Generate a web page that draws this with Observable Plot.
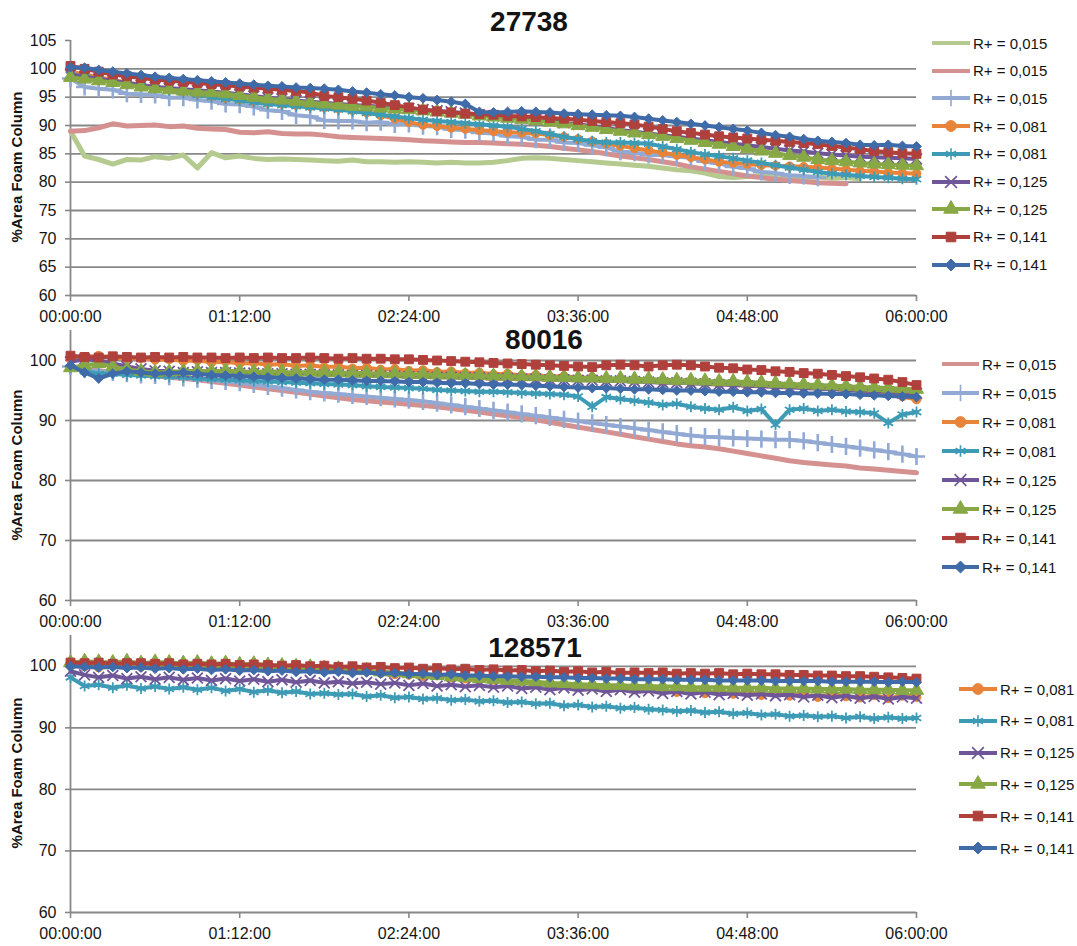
<!DOCTYPE html>
<html><head><meta charset="utf-8">
<script src="https://cdn.jsdelivr.net/npm/d3@7"></script>
<script src="https://cdn.jsdelivr.net/npm/@observablehq/plot@0.6"></script>
<style>
body{margin:0;background:#fff;}
#root{position:relative;width:1077px;height:946px;overflow:hidden;font-family:"Liberation Sans",Arial,sans-serif;color:#141414;background:#fff;}
.panel{position:absolute;left:0;}
.title{position:absolute;font-weight:bold;font-size:28px;line-height:28px;transform:translateX(-50%);white-space:nowrap;}
.ylab{position:absolute;font-weight:bold;font-size:15px;line-height:15px;transform:translate(-50%,-50%) rotate(-90deg);white-space:nowrap;}
.lrow{position:absolute;display:flex;align-items:center;font-size:15px;white-space:nowrap;height:20px;}
.lrow svg{display:block;}
</style></head><body><div id="root"></div><script>
// ---------- time grid (minutes) and axis ticks ----------
const minutes = [0,6,12,18,24,30,36,42,48,54,60,66,72,78,84,90,96,102,108,114,120,126,132,138,144,150,156,162,168,174,180,186,192,198,204,210,216,222,228,234,240,246,252,258,264,270,276,282,288,294,300,306,312,318,324,330,336,342,348,354,360];
const xTickMinutes = [0,72,144,216,288,360];
const xTickLabels = ["00:00:00","01:12:00","02:24:00","03:36:00","04:48:00","06:00:00"];
const yTicks1 = [60,65,70,75,80,85,90,95,100,105];
const yGrid1 = [60,65,70,75,80,85,90,95,100];
const yTicks23 = [60,70,80,90,100];

// ---------- panel titles / legend labels ----------
const titles = ["27738","80016","128571"];
const yLabel = "%Area Foam Column";
const labels1 = ["R+ = 0,015","R+ = 0,015","R+ = 0,015","R+ = 0,081","R+ = 0,081","R+ = 0,125","R+ = 0,125","R+ = 0,141","R+ = 0,141"];
const labels2 = ["R+ = 0,015","R+ = 0,015","R+ = 0,081","R+ = 0,081","R+ = 0,125","R+ = 0,125","R+ = 0,141","R+ = 0,141"];
const labels3 = ["R+ = 0,081","R+ = 0,081","R+ = 0,125","R+ = 0,125","R+ = 0,141","R+ = 0,141"];

// ---------- panel 1 : 27738 ----------
const p1LightGreen = [89.0,84.6,84.0,83.2,84.0,83.9,84.5,84.2,84.8,82.5,85.2,84.3,84.6,84.2,84.0,84.1,84.0,83.9,83.8,83.7,83.9,83.6,83.6,83.5,83.6,83.5,83.4,83.5,83.4,83.4,83.5,83.8,84.2,84.3,84.2,84.0,83.8,83.6,83.4,83.2,83.0,82.8,82.5,82.2,82.0,81.6,81.0,80.8,81.0,81.2,80.9,81.0,80.8,80.9,80.7,80.8,80.6];
const p1Pink = [89.0,89.1,89.6,90.3,89.9,90.0,90.1,89.8,89.9,89.5,89.4,89.3,88.8,88.7,88.9,88.6,88.5,88.5,88.3,88.0,87.9,87.8,87.7,87.6,87.5,87.3,87.2,87.1,87.0,87.0,86.9,86.8,86.7,86.5,86.3,86.0,85.7,85.4,85.0,84.6,84.3,84.0,83.6,83.2,82.7,82.3,81.9,81.5,81.1,80.8,80.5,80.3,80.1,79.9,79.8,79.7];
const p1LightBlue = [98.3,96.8,96.5,96.3,95.6,95.5,95.4,94.9,94.9,94.5,94.3,93.8,93.7,93.3,92.7,92.5,91.8,91.6,90.9,90.8,90.8,90.5,90.6,90.2,90.3,89.9,89.8,89.3,89.2,88.7,88.6,88.1,88.0,87.5,87.5,87.0,86.9,86.5,86.1,85.4,85.2,84.8,84.8,84.5,84.3,83.6,83.3,82.7,82.4,81.8,81.6,81.2,81.1,80.8];
const p1Orange = [99.5,99.0,98.5,98.0,97.6,97.2,96.8,96.4,96.0,95.6,95.2,94.8,94.6,94.3,94.0,93.8,93.6,93.4,93.2,93.0,92.7,92.3,91.8,91.2,90.6,90.1,89.9,89.6,89.4,89.2,89.0,88.8,88.7,88.6,88.3,88.0,87.6,87.2,86.8,86.4,86.0,85.6,85.2,84.8,84.4,84.0,83.6,83.4,83.2,83.0,82.9,82.8,82.7,82.6,82.4,82.2,82.0,81.9,81.7,81.6,81.5];
const p1Teal = [99.0,98.6,98.2,97.8,97.4,97.0,96.6,96.2,95.8,95.4,95.0,94.7,94.4,94.1,93.8,93.6,93.4,93.2,93.0,92.8,92.5,92.2,91.9,91.6,91.3,91.0,90.8,90.6,90.4,90.2,90.0,89.8,89.4,89.0,88.5,88.0,87.6,87.2,87.0,87.0,86.9,86.8,86.3,85.8,85.3,84.9,84.6,84.2,83.8,83.4,83.0,82.6,82.2,81.8,81.5,81.3,81.1,80.9,80.8,80.6,80.5];
const p1Purple = [99.0,98.6,98.2,97.9,97.5,97.1,96.8,96.6,96.4,96.2,96.0,95.8,95.5,95.2,94.9,94.7,94.4,94.2,94.0,93.8,93.6,93.5,93.3,93.1,93.0,92.8,92.6,92.4,92.2,91.9,91.7,91.5,91.3,91.1,90.8,90.5,90.2,89.9,89.5,89.2,88.9,88.6,88.3,88.0,87.7,87.4,87.1,86.8,86.5,86.2,85.9,85.6,85.4,85.1,84.9,84.7,84.5,84.4,84.3,84.2,84.1];
const p1Green = [98.5,98.2,97.9,97.6,97.2,96.8,96.5,96.3,96.1,95.9,95.8,95.6,95.3,95.0,94.7,94.5,94.2,94.0,93.8,93.6,93.4,93.3,93.1,92.9,92.8,92.6,92.4,92.2,92.0,91.7,91.5,91.3,91.1,90.9,90.6,90.3,90.0,89.7,89.3,89.0,88.7,88.4,88.1,87.7,87.4,87.0,86.7,86.3,85.9,85.5,85.1,84.7,84.4,84.0,83.8,83.6,83.4,83.2,83.1,83.0,82.9];
const p1Red = [100.5,100.0,99.5,99.0,98.7,98.4,98.1,97.9,97.7,97.5,97.3,97.1,96.9,96.7,96.5,96.3,96.1,95.8,95.2,95.0,94.7,94.4,94.0,93.6,93.2,92.8,92.5,92.3,92.1,92.0,91.9,91.7,91.6,91.5,91.3,91.2,91.0,90.8,90.6,90.4,90.2,89.8,89.4,89.0,88.7,88.4,88.1,87.9,87.7,87.5,87.3,87.1,86.9,86.7,86.4,86.1,85.8,85.5,85.3,85.1,85.0];
const p1Blue = [100.3,100.2,99.8,99.5,99.2,98.9,98.6,98.4,98.2,98.0,97.8,97.6,97.4,97.2,97.0,96.9,96.7,96.6,96.5,96.3,96.0,95.8,95.5,95.3,95.0,94.8,94.5,94.2,93.8,92.4,92.3,92.4,92.5,92.4,92.3,92.1,92.0,91.9,91.8,91.7,91.5,91.2,90.9,90.6,90.3,90.0,89.7,89.4,89.1,88.7,88.3,88.0,87.6,87.3,87.1,86.9,86.6,86.5,86.6,86.4,86.3];

// ---------- panel 2 : 80016 ----------
const p2Pink = [99.0,98.6,98.3,98.0,97.8,97.6,97.4,97.2,97.0,96.8,96.5,96.2,95.9,95.6,95.3,95.0,94.7,94.4,94.1,93.8,93.5,93.3,93.1,92.9,92.7,92.5,92.3,92.0,91.7,91.4,91.1,90.8,90.5,90.1,89.7,89.3,88.9,88.5,88.1,87.7,87.3,86.9,86.5,86.1,85.8,85.6,85.3,84.9,84.5,84.1,83.7,83.3,83.0,82.8,82.6,82.4,82.1,81.9,81.7,81.5,81.3];
const p2LightBlue = [99.0,98.5,98.2,98.0,97.8,97.6,97.5,97.3,97.1,96.9,96.7,96.5,96.3,96.0,95.7,95.4,95.1,94.8,94.6,94.4,94.2,94.0,93.8,93.6,93.4,93.2,92.9,92.6,92.3,92.0,91.7,91.4,91.1,90.8,90.5,90.2,89.9,89.6,89.3,89.0,88.7,88.4,88.1,87.8,87.5,87.3,87.2,87.1,87.0,86.9,86.8,86.8,86.6,86.3,86.0,85.7,85.4,85.1,84.8,84.4,84.0];
const p2Orange = [100.2,100.6,100.8,100.5,100.3,100.4,100.1,100.2,99.9,100.0,99.7,99.8,99.5,99.6,99.3,99.4,99.1,99.2,98.9,99.0,98.7,98.8,98.5,98.6,98.3,98.4,98.1,98.2,97.9,98.0,97.7,97.8,97.5,97.6,97.3,97.4,97.1,97.2,96.9,97.0,96.7,96.8,96.5,96.6,96.3,96.4,96.1,96.2,95.9,96.0,95.7,95.8,95.5,95.6,95.3,95.2,94.9,94.7,94.4,94.0,93.5];
const p2Teal = [98.8,98.2,97.8,97.8,97.6,97.5,97.4,97.3,97.2,97.0,96.9,96.8,96.7,96.6,96.5,96.4,96.3,96.2,96.1,96.0,95.9,95.7,95.6,95.5,95.4,95.3,95.1,95.0,94.9,94.8,94.8,94.7,94.6,94.5,94.4,94.3,94.0,92.3,93.9,93.6,93.3,93.0,92.6,92.8,92.3,92.0,91.8,92.2,91.6,91.9,89.3,91.8,92.0,91.6,91.8,91.5,91.4,91.2,89.6,91.0,91.4];
const p2Purple = [99.8,100.2,100.0,99.5,99.0,98.6,98.3,98.2,98.0,98.1,98.0,98.0,97.9,97.9,97.8,97.8,97.7,97.7,97.6,97.6,97.5,97.5,97.4,97.4,97.3,97.3,97.2,97.2,97.1,97.1,97.0,97.0,96.9,96.9,96.8,96.8,96.7,96.7,96.6,96.6,96.5,96.4,96.3,96.3,96.2,96.1,96.0,95.9,95.8,95.7,95.6,95.5,95.4,95.3,95.2,95.1,95.0,94.9,94.8,94.6,94.5];
const p2Green = [98.8,99.2,99.5,99.0,98.5,98.2,98.0,98.1,98.2,98.3,98.2,98.3,98.2,98.1,98.2,98.1,98.0,98.1,98.0,98.0,97.9,97.9,97.8,97.8,97.7,97.7,97.6,97.6,97.5,97.5,97.4,97.4,97.3,97.3,97.2,97.2,97.1,97.1,97.0,97.0,96.9,96.9,96.8,96.7,96.7,96.6,96.5,96.5,96.4,96.3,96.2,96.1,96.0,95.9,95.8,95.7,95.6,95.5,95.4,95.3,95.2];
const p2Red = [100.8,100.6,100.5,100.7,100.6,100.5,100.6,100.5,100.6,100.5,100.5,100.4,100.5,100.4,100.5,100.4,100.4,100.5,100.4,100.3,100.4,100.3,100.3,100.2,100.2,100.1,100.0,99.9,99.8,99.7,99.6,99.5,99.4,99.3,99.2,99.1,99.0,98.9,99.2,99.3,99.2,99.0,99.2,99.3,99.2,99.0,98.8,98.7,98.5,98.4,98.2,98.1,97.9,97.8,97.6,97.4,97.2,97.0,96.8,96.4,95.9];
const p2Blue = [99.2,98.0,97.0,97.8,98.2,98.0,97.8,97.9,98.0,97.8,97.6,97.5,97.4,97.3,97.2,97.1,97.0,96.9,96.8,96.8,96.7,96.6,96.6,96.5,96.4,96.4,96.3,96.2,96.2,96.1,96.0,96.0,95.9,95.8,95.7,95.6,95.5,95.4,95.4,95.3,95.2,95.2,95.1,95.0,95.0,94.9,94.8,94.8,94.7,94.7,94.6,94.6,94.5,94.5,94.4,94.4,94.3,94.2,94.1,94.0,93.9];

// ---------- panel 3 : 128571 ----------
const p3Orange = [100.2,100.0,99.8,100.3,100.1,99.9,100.2,100.0,99.8,100.1,99.9,100.0,99.7,99.9,99.6,99.8,99.5,99.6,99.3,99.4,99.1,99.2,98.9,98.7,98.6,98.4,98.5,98.2,98.0,97.9,97.8,97.5,97.6,97.2,97.3,96.9,96.8,97.0,96.5,96.6,96.2,96.4,96.0,95.8,96.1,95.6,95.9,95.5,95.7,95.3,95.6,95.2,95.4,95.0,95.5,95.1,94.9,95.3,94.8,95.2,95.0];
const p3Teal = [98.2,96.8,97.0,96.5,96.9,96.4,96.7,96.3,96.6,96.2,96.5,96.0,96.3,95.8,96.1,95.7,95.9,95.5,95.6,95.4,95.5,95.1,95.3,94.9,95.0,94.7,94.8,94.5,94.6,94.3,94.4,94.1,94.2,93.9,94.0,93.6,93.7,93.4,93.5,93.2,93.3,93.0,92.9,92.7,92.8,92.5,92.6,92.3,92.4,92.1,92.2,91.9,92.0,91.8,91.9,91.6,91.8,91.5,91.7,91.5,91.6];
const p3Purple = [99.2,98.6,98.2,98.5,98.0,98.3,97.9,98.2,97.8,98.1,97.7,98.0,97.6,97.9,97.5,97.8,97.4,97.7,97.3,97.5,97.2,97.4,97.1,97.3,96.9,97.2,96.8,97.0,96.7,96.9,96.6,96.8,96.4,96.6,96.2,96.5,96.1,96.3,95.9,96.2,95.8,96.0,95.6,95.9,95.5,95.8,95.4,95.6,95.3,95.5,95.2,95.4,95.0,95.3,94.9,95.2,94.8,95.1,94.7,95.0,94.8];
const p3Green = [100.6,100.8,100.7,100.6,100.8,100.5,100.7,100.6,100.5,100.6,100.4,100.5,100.3,100.4,100.2,100.1,100.0,99.9,99.7,99.6,99.4,99.3,99.1,99.0,98.8,98.7,98.5,98.3,98.2,98.0,97.9,97.7,97.6,97.5,97.3,97.2,97.1,97.0,96.9,96.9,96.8,96.8,96.7,96.7,96.6,96.6,96.6,96.5,96.5,96.5,96.4,96.4,96.4,96.3,96.3,96.3,96.2,96.2,96.2,96.1,96.1];
const p3Red = [100.6,100.5,100.6,100.4,100.5,100.5,100.4,100.5,100.3,100.4,100.3,100.4,100.2,100.3,100.2,100.1,100.2,100.0,100.1,99.9,100.0,99.8,99.9,99.7,99.8,99.6,99.7,99.5,99.6,99.4,99.5,99.3,99.4,99.2,99.3,99.1,99.2,99.0,99.1,98.9,99.0,98.9,99.0,98.8,98.9,98.8,98.9,98.7,98.8,98.7,98.7,98.6,98.6,98.5,98.5,98.4,98.4,98.3,98.2,98.1,98.0];
const p3Blue = [100.0,99.9,99.8,99.9,99.7,99.8,99.6,99.7,99.5,99.6,99.4,99.5,99.3,99.4,99.2,99.3,99.1,99.2,99.0,99.1,98.9,99.0,98.8,98.9,98.7,98.8,98.6,98.7,98.5,98.5,98.4,98.4,98.3,98.3,98.2,98.2,98.1,98.1,98.0,98.0,97.9,97.9,97.9,97.8,97.8,97.8,97.7,97.7,97.7,97.7,97.6,97.6,97.6,97.6,97.5,97.5,97.5,97.5,97.4,97.5,97.4];

// ---------- styles (Excel palette) ----------
const styles = {
  lg: {color: "#B4CA8E", symbol: null},
  pk: {color: "#D4918F", symbol: null},
  lb: {color: "#92A9D3", symbol: "plus"},
  or: {color: "#E8843A", symbol: "circle"},
  tl: {color: "#3D9BB5", symbol: "asterisk"},
  pu: {color: "#6F5699", symbol: "times"},
  gr: {color: "#87A845", symbol: "triangle"},
  rd: {color: "#B0403C", symbol: "square"},
  bl: {color: "#3F6BA9", symbol: "diamond2"}
};
const markerR = {plus: 5.6, asterisk: 5.2, times: 5.0, circle: 4.4, triangle: 5.2, square: 5.0, diamond2: 4.4};
const strokeSymbols = new Set(["plus","asterisk","times"]);
const d3Symbols = {plus: d3.symbolPlus, circle: d3.symbolCircle, asterisk: d3.symbolAsterisk, times: d3.symbolTimes, triangle: d3.symbolTriangle, square: d3.symbolSquare, diamond2: d3.symbolDiamond2};

const panels = [
  {title: titles[0], titleX: 529, titleY: 8, top: 0, height: 330, mt: 40, mb: 35, yTicks: yTicks1, yGrid: yGrid1, ylabY: 167,
   series: [["lg", p1LightGreen], ["pk", p1Pink], ["lb", p1LightBlue], ["or", p1Orange], ["tl", p1Teal], ["pu", p1Purple], ["gr", p1Green], ["rd", p1Red], ["bl", p1Blue]],
   labels: labels1, legend: {x0: 932, w: 38, y0: 43, dy: 27.7}},
  {title: titles[1], titleX: 544, titleY: 326, top: 330, height: 300, mt: 0, mb: 30, yTicks: yTicks23, yGrid: yTicks23, ylabY: 465,
   series: [["pk", p2Pink], ["lb", p2LightBlue], ["or", p2Orange], ["tl", p2Teal], ["pu", p2Purple], ["gr", p2Green], ["rd", p2Red], ["bl", p2Blue]],
   labels: labels2, legend: {x0: 942, w: 37, y0: 364, dy: 29}},
  {title: titles[2], titleX: 535, titleY: 634, top: 630, height: 316, mt: 5, mb: 34, yTicks: yTicks23, yGrid: yTicks23, ylabY: 773,
   series: [["or", p3Orange], ["tl", p3Teal], ["pu", p3Purple], ["gr", p3Green], ["rd", p3Red], ["bl", p3Blue]],
   labels: labels3, legend: {x0: 959, w: 38, y0: 689, dy: 31.8}}
];

const root = document.getElementById("root");
const gridColor = "#888888";

for (const p of panels) {
  const marks = [
    Plot.ruleY(p.yGrid, {stroke: gridColor, strokeWidth: 1.8}),
    Plot.ruleX([0], {stroke: gridColor, strokeWidth: 1.8}),
    Plot.axisY({ticks: p.yTicks, tickSize: 5, tickPadding: 9, stroke: gridColor, strokeWidth: 1.6, fill: "#141414", fontSize: 16, label: null}),
    Plot.axisX({ticks: xTickMinutes, tickFormat: d => xTickLabels[xTickMinutes.indexOf(d)], tickSize: 6, tickPadding: 9, stroke: gridColor, strokeWidth: 1.6, fill: "#141414", fontSize: 16, label: null})
  ];
  for (const [key, vals] of p.series) {
    const st = styles[key];
    const rows = vals.map((v, i) => ({t: minutes[i], v}));
    marks.push(Plot.line(rows, {x: "t", y: "v", stroke: st.color, strokeWidth: st.symbol ? 4 : 5}));
    if (st.symbol) {
      if (strokeSymbols.has(st.symbol)) {
        marks.push(Plot.dot(rows, {x: "t", y: "v", symbol: st.symbol, r: markerR[st.symbol], stroke: st.color, strokeWidth: st.symbol === "plus" ? 2.6 : 1.8, fill: "none"}));
      } else {
        marks.push(Plot.dot(rows, {x: "t", y: "v", symbol: st.symbol, r: markerR[st.symbol], fill: st.color, stroke: st.color, strokeWidth: 1}));
      }
    }
  }
  const chart = Plot.plot({
    width: 1077, height: p.height,
    marginLeft: 70, marginRight: 161, marginTop: p.mt, marginBottom: p.mb,
    x: {domain: [0, 360]},
    y: {domain: [60, 105]},
    style: {fontFamily: "'Liberation Sans', Arial, sans-serif", fontSize: "16px", color: "#141414", background: "transparent", overflow: "visible"},
    marks
  });
  const wrap = document.createElement("div");
  wrap.className = "panel";
  wrap.style.top = p.top + "px";
  wrap.append(chart);
  root.append(wrap);

  const yl = document.createElement("div");
  yl.className = "ylab";
  yl.textContent = yLabel;
  yl.style.left = "16px";
  yl.style.top = p.ylabY + "px";
  root.append(yl);

  const t = document.createElement("div");
  t.className = "title";
  t.textContent = p.title;
  t.style.left = p.titleX + "px";
  t.style.top = p.titleY + "px";
  root.append(t);

  p.series.forEach(([key], k) => {
    const st = styles[key];
    const row = document.createElement("div");
    row.className = "lrow";
    row.style.left = p.legend.x0 + "px";
    row.style.top = (p.legend.y0 + k * p.legend.dy - 10) + "px";
    const svg = d3.create("svg").attr("width", p.legend.w).attr("height", 20);
    svg.append("line").attr("x1", 0).attr("x2", p.legend.w).attr("y1", 10).attr("y2", 10)
      .attr("stroke", st.color).attr("stroke-width", 4);
    if (st.symbol) {
      const path = d3.symbol(d3Symbols[st.symbol], Math.PI * 5.4 * 5.4)();
      const g = svg.append("path").attr("d", path).attr("transform", `translate(${p.legend.w / 2},10)`);
      if (strokeSymbols.has(st.symbol)) g.attr("fill", "none").attr("stroke", st.color).attr("stroke-width", 1.6);
      else g.attr("fill", st.color).attr("stroke", st.color);
    }
    row.append(svg.node());
    const span = document.createElement("span");
    span.textContent = p.labels[k];
    span.style.marginLeft = "3px";
    row.append(span);
    root.append(row);
  });
}
</script></body></html>
